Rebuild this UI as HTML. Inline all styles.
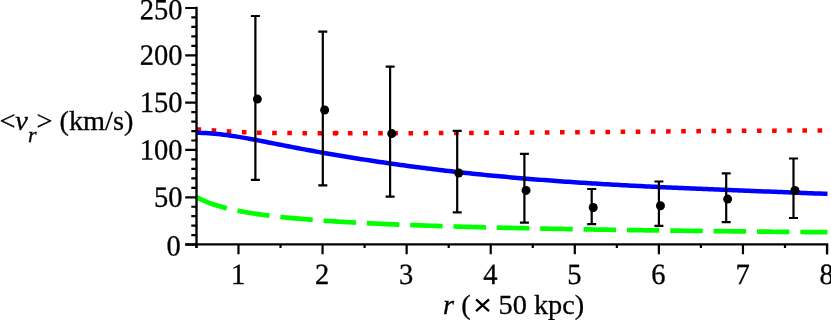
<!DOCTYPE html>
<html><head><meta charset="utf-8"><title>plot</title>
<style>
html,body{margin:0;padding:0;background:#fff;}
body{width:831px;height:320px;overflow:hidden;font-family:"Liberation Serif",serif;}
svg{display:block;will-change:transform;}
text{font-family:"Liberation Serif",serif;font-size:28.3px;fill:#000;stroke:#000;stroke-width:0.3px;}
.it{font-style:italic;}
.tk{font-size:28.5px;}
</style></head><body>
<svg width="831" height="320" viewBox="0 0 831 320">
<rect width="831" height="320" fill="#fff"/>
<!-- curves -->
<polyline points="196.5,129.39 199.5,129.52 202.5,129.66 205.5,129.82 208.5,130.00 211.5,130.19 214.5,130.38 217.5,130.58 220.5,130.79 223.5,130.99 226.5,131.19 229.5,131.38 232.5,131.57 235.5,131.75 238.5,131.92 241.5,132.07 244.5,132.21 247.5,132.34 250.5,132.44 253.5,132.54 256.5,132.62 259.5,132.69 262.5,132.75 265.5,132.80 268.5,132.84 271.5,132.88 274.5,132.92 277.5,132.95 280.5,132.99 283.5,133.01 286.5,133.04 289.5,133.07 292.5,133.09 295.5,133.11 298.5,133.13 301.5,133.15 304.5,133.17 307.5,133.18 310.5,133.20 313.5,133.21 316.5,133.22 319.5,133.23 322.5,133.24 325.5,133.24 328.5,133.25 331.5,133.26 334.5,133.26 337.5,133.26 340.5,133.27 343.5,133.27 346.5,133.27 349.5,133.27 352.5,133.27 355.5,133.27 358.5,133.27 361.5,133.27 364.5,133.27 367.5,133.26 370.5,133.26 373.5,133.26 376.5,133.25 379.5,133.25 382.5,133.24 385.5,133.24 388.5,133.23 391.5,133.23 394.5,133.22 397.5,133.21 400.5,133.21 403.5,133.20 406.5,133.19 409.5,133.18 412.5,133.17 415.5,133.16 418.5,133.15 421.5,133.14 424.5,133.13 427.5,133.12 430.5,133.11 433.5,133.10 436.5,133.08 439.5,133.07 442.5,133.06 445.5,133.05 448.5,133.03 451.5,133.02 454.5,133.00 457.5,132.99 460.5,132.97 463.5,132.96 466.5,132.94 469.5,132.93 472.5,132.91 475.5,132.89 478.5,132.88 481.5,132.86 484.5,132.84 487.5,132.82 490.5,132.81 493.5,132.79 496.5,132.77 499.5,132.75 502.5,132.73 505.5,132.71 508.5,132.69 511.5,132.67 514.5,132.65 517.5,132.63 520.5,132.61 523.5,132.59 526.5,132.57 529.5,132.54 532.5,132.52 535.5,132.50 538.5,132.48 541.5,132.46 544.5,132.43 547.5,132.41 550.5,132.39 553.5,132.36 556.5,132.34 559.5,132.32 562.5,132.29 565.5,132.27 568.5,132.25 571.5,132.22 574.5,132.20 577.5,132.17 580.5,132.15 583.5,132.12 586.5,132.10 589.5,132.07 592.5,132.05 595.5,132.02 598.5,132.00 601.5,131.97 604.5,131.94 607.5,131.92 610.5,131.89 613.5,131.87 616.5,131.84 619.5,131.81 622.5,131.79 625.5,131.76 628.5,131.74 631.5,131.71 634.5,131.68 637.5,131.66 640.5,131.63 643.5,131.60 646.5,131.58 649.5,131.55 652.5,131.52 655.5,131.50 658.5,131.47 661.5,131.45 664.5,131.42 667.5,131.39 670.5,131.37 673.5,131.34 676.5,131.32 679.5,131.29 682.5,131.27 685.5,131.24 688.5,131.22 691.5,131.19 694.5,131.17 697.5,131.14 700.5,131.12 703.5,131.10 706.5,131.07 709.5,131.05 712.5,131.03 715.5,131.00 718.5,130.98 721.5,130.96 724.5,130.94 727.5,130.92 730.5,130.90 733.5,130.87 736.5,130.85 739.5,130.83 742.5,130.81 745.5,130.80 748.5,130.78 751.5,130.76 754.5,130.74 757.5,130.72 760.5,130.71 763.5,130.69 766.5,130.67 769.5,130.66 772.5,130.64 775.5,130.63 778.5,130.61 781.5,130.60 784.5,130.59 787.5,130.58 790.5,130.56 793.5,130.55 796.5,130.54 799.5,130.53 802.5,130.52 805.5,130.51 808.5,130.50 811.5,130.50 814.5,130.49 817.5,130.48 820.5,130.48 823.5,130.47 826.5,130.47 827.5,130.47" fill="none" stroke="#ff0000" stroke-width="4.5" stroke-dasharray="4.6 10.55"/>
<polyline points="196.5,197.01 199.5,198.61 202.5,200.05 205.5,201.37 208.5,202.58 211.5,203.69 214.5,204.71 217.5,205.66 220.5,206.55 223.5,207.37 226.5,208.15 229.5,208.88 232.5,209.56 235.5,210.21 238.5,210.82 241.5,211.40 244.5,211.95 247.5,212.48 250.5,212.98 253.5,213.45 256.5,213.91 259.5,214.34 262.5,214.76 265.5,215.16 268.5,215.54 271.5,215.91 274.5,216.27 277.5,216.61 280.5,216.94 283.5,217.26 286.5,217.57 289.5,217.86 292.5,218.15 295.5,218.43 298.5,218.70 301.5,218.96 304.5,219.21 307.5,219.46 310.5,219.69 313.5,219.93 316.5,220.15 319.5,220.37 322.5,220.58 325.5,220.79 328.5,220.99 331.5,221.19 334.5,221.38 337.5,221.57 340.5,221.75 343.5,221.93 346.5,222.10 349.5,222.27 352.5,222.44 355.5,222.60 358.5,222.76 361.5,222.91 364.5,223.06 367.5,223.21 370.5,223.36 373.5,223.50 376.5,223.64 379.5,223.77 382.5,223.91 385.5,224.04 388.5,224.17 391.5,224.29 394.5,224.42 397.5,224.54 400.5,224.66 403.5,224.78 406.5,224.89 409.5,225.00 412.5,225.11 415.5,225.22 418.5,225.33 421.5,225.44 424.5,225.54 427.5,225.64 430.5,225.74 433.5,225.84 436.5,225.94 439.5,226.03 442.5,226.12 445.5,226.22 448.5,226.31 451.5,226.40 454.5,226.48 457.5,226.57 460.5,226.66 463.5,226.74 466.5,226.82 469.5,226.91 472.5,226.99 475.5,227.07 478.5,227.14 481.5,227.22 484.5,227.30 487.5,227.37 490.5,227.45 493.5,227.52 496.5,227.59 499.5,227.66 502.5,227.73 505.5,227.80 508.5,227.87 511.5,227.94 514.5,228.00 517.5,228.07 520.5,228.13 523.5,228.20 526.5,228.26 529.5,228.32 532.5,228.39 535.5,228.45 538.5,228.51 541.5,228.57 544.5,228.63 547.5,228.68 550.5,228.74 553.5,228.80 556.5,228.85 559.5,228.91 562.5,228.97 565.5,229.02 568.5,229.07 571.5,229.13 574.5,229.18 577.5,229.23 580.5,229.28 583.5,229.33 586.5,229.38 589.5,229.43 592.5,229.48 595.5,229.53 598.5,229.58 601.5,229.63 604.5,229.67 607.5,229.72 610.5,229.77 613.5,229.81 616.5,229.86 619.5,229.90 622.5,229.95 625.5,229.99 628.5,230.04 631.5,230.08 634.5,230.12 637.5,230.16 640.5,230.21 643.5,230.25 646.5,230.29 649.5,230.33 652.5,230.37 655.5,230.41 658.5,230.45 661.5,230.49 664.5,230.53 667.5,230.57 670.5,230.60 673.5,230.64 676.5,230.68 679.5,230.72 682.5,230.75 685.5,230.79 688.5,230.83 691.5,230.86 694.5,230.90 697.5,230.93 700.5,230.97 703.5,231.00 706.5,231.04 709.5,231.07 712.5,231.11 715.5,231.14 718.5,231.17 721.5,231.21 724.5,231.24 727.5,231.27 730.5,231.30 733.5,231.34 736.5,231.37 739.5,231.40 742.5,231.43 745.5,231.46 748.5,231.49 751.5,231.52 754.5,231.55 757.5,231.58 760.5,231.61 763.5,231.64 766.5,231.67 769.5,231.70 772.5,231.73 775.5,231.76 778.5,231.79 781.5,231.81 784.5,231.84 787.5,231.87 790.5,231.90 793.5,231.93 796.5,231.95 799.5,231.98 802.5,232.01 805.5,232.03 808.5,232.06 811.5,232.09 814.5,232.11 817.5,232.14 820.5,232.16 823.5,232.19 826.5,232.21 827.5,232.22" fill="none" stroke="#00ff00" stroke-width="4.7" stroke-dasharray="32.45 10.91" stroke-linejoin="round"/>
<polyline points="196.5,132.74 199.5,132.80 202.5,132.91 205.5,133.06 208.5,133.24 211.5,133.46 214.5,133.72 217.5,134.02 220.5,134.34 223.5,134.69 226.5,135.08 229.5,135.48 232.5,135.92 235.5,136.37 238.5,136.85 241.5,137.35 244.5,137.87 247.5,138.40 250.5,138.94 253.5,139.50 256.5,140.07 259.5,140.65 262.5,141.24 265.5,141.83 268.5,142.43 271.5,143.02 274.5,143.62 277.5,144.22 280.5,144.81 283.5,145.40 286.5,145.99 289.5,146.57 292.5,147.15 295.5,147.72 298.5,148.28 301.5,148.85 304.5,149.40 307.5,149.96 310.5,150.51 313.5,151.05 316.5,151.59 319.5,152.13 322.5,152.66 325.5,153.19 328.5,153.71 331.5,154.23 334.5,154.74 337.5,155.25 340.5,155.75 343.5,156.25 346.5,156.75 349.5,157.24 352.5,157.73 355.5,158.21 358.5,158.69 361.5,159.16 364.5,159.63 367.5,160.09 370.5,160.56 373.5,161.01 376.5,161.46 379.5,161.91 382.5,162.35 385.5,162.79 388.5,163.23 391.5,163.66 394.5,164.08 397.5,164.50 400.5,164.92 403.5,165.33 406.5,165.74 409.5,166.15 412.5,166.55 415.5,166.94 418.5,167.33 421.5,167.72 424.5,168.10 427.5,168.48 430.5,168.85 433.5,169.22 436.5,169.59 439.5,169.95 442.5,170.31 445.5,170.66 448.5,171.01 451.5,171.35 454.5,171.69 457.5,172.03 460.5,172.36 463.5,172.69 466.5,173.01 469.5,173.33 472.5,173.65 475.5,173.96 478.5,174.27 481.5,174.57 484.5,174.87 487.5,175.17 490.5,175.46 493.5,175.75 496.5,176.03 499.5,176.31 502.5,176.59 505.5,176.86 508.5,177.13 511.5,177.40 514.5,177.66 517.5,177.92 520.5,178.18 523.5,178.43 526.5,178.68 529.5,178.92 532.5,179.17 535.5,179.41 538.5,179.64 541.5,179.88 544.5,180.11 547.5,180.34 550.5,180.56 553.5,180.78 556.5,181.00 559.5,181.22 562.5,181.43 565.5,181.64 568.5,181.85 571.5,182.05 574.5,182.25 577.5,182.45 580.5,182.65 583.5,182.84 586.5,183.03 589.5,183.22 592.5,183.41 595.5,183.60 598.5,183.78 601.5,183.96 604.5,184.13 607.5,184.31 610.5,184.48 613.5,184.65 616.5,184.82 619.5,184.99 622.5,185.16 625.5,185.32 628.5,185.48 631.5,185.64 634.5,185.80 637.5,185.95 640.5,186.10 643.5,186.26 646.5,186.41 649.5,186.56 652.5,186.70 655.5,186.85 658.5,186.99 661.5,187.13 664.5,187.27 667.5,187.41 670.5,187.55 673.5,187.69 676.5,187.82 679.5,187.96 682.5,188.09 685.5,188.22 688.5,188.36 691.5,188.48 694.5,188.61 697.5,188.74 700.5,188.87 703.5,188.99 706.5,189.12 709.5,189.24 712.5,189.37 715.5,189.49 718.5,189.61 721.5,189.73 724.5,189.85 727.5,189.97 730.5,190.09 733.5,190.21 736.5,190.33 739.5,190.45 742.5,190.56 745.5,190.68 748.5,190.80 751.5,190.92 754.5,191.03 757.5,191.15 760.5,191.26 763.5,191.38 766.5,191.50 769.5,191.61 772.5,191.73 775.5,191.84 778.5,191.96 781.5,192.08 784.5,192.19 787.5,192.31 790.5,192.43 793.5,192.54 796.5,192.66 799.5,192.78 802.5,192.90 805.5,193.02 808.5,193.14 811.5,193.26 814.5,193.38 817.5,193.50 820.5,193.62 823.5,193.74 826.5,193.86 827.5,193.91" fill="none" stroke="#0000ff" stroke-width="4.5" stroke-linejoin="round"/>
<circle cx="336.1" cy="133.1" r="2.5" fill="#ff0000"/>
<!-- axes -->
<g fill="none" stroke="#000">
<path d="M196.5,6.8V248" stroke-width="2.4"/>
<path d="M185.2,244.4H828.2" stroke-width="2.3"/>
<path d="M185.2,244.60H196.5M185.2,197.28H196.5M185.2,149.96H196.5M185.2,102.64H196.5M185.2,55.32H196.5M185.2,8.00H196.5M191.3,235.14H196.5M191.3,225.67H196.5M191.3,216.21H196.5M191.3,206.74H196.5M191.3,187.82H196.5M191.3,178.35H196.5M191.3,168.89H196.5M191.3,159.42H196.5M191.3,140.50H196.5M191.3,131.03H196.5M191.3,121.57H196.5M191.3,112.10H196.5M191.3,93.18H196.5M191.3,83.71H196.5M191.3,74.25H196.5M191.3,64.78H196.5M191.3,45.86H196.5M191.3,36.39H196.5M191.3,26.93H196.5M191.3,17.46H196.5M238.48,244.4V254.3M322.56,244.4V254.3M406.64,244.4V254.3M490.72,244.4V254.3M574.80,244.4V254.3M658.88,244.4V254.3M742.96,244.4V254.3M827.04,244.4V254.3M196.44,244.4V248.1M280.52,244.4V248.1M364.60,244.4V248.1M448.68,244.4V248.1M532.76,244.4V248.1M616.84,244.4V248.1M700.92,244.4V248.1M785.00,244.4V248.1" stroke-width="2.2"/>
<path d="M827.04,244.4V254.3" stroke-width="2.2"/>
</g>
<!-- error bars -->
<g fill="none" stroke="#000" stroke-width="2.2">
<path d="M255.4,16.0V179.8M250.9,16.0H259.9M250.9,179.8H259.9"/><path d="M322.8,31.7V185.3M318.3,31.7H327.3M318.3,185.3H327.3"/><path d="M390.1,66.6V196.7M385.6,66.6H394.6M385.6,196.7H394.6"/><path d="M457.2,130.8V212.3M452.7,130.8H461.7M452.7,212.3H461.7"/><path d="M524.4,153.9V222.7M519.9,153.9H528.9M519.9,222.7H528.9"/><path d="M591.7,189.0V224.1M587.2,189.0H596.2M587.2,224.1H596.2"/><path d="M658.9,181.5V225.9M654.4,181.5H663.4M654.4,225.9H663.4"/><path d="M726.2,173.4V222.2M721.7,173.4H730.7M721.7,222.2H730.7"/><path d="M793.5,158.5V218.0M789.0,158.5H798.0M789.0,218.0H798.0"/>
</g>
<g fill="#000"><circle cx="257.35" cy="99.10" r="4.5"/><circle cx="324.65" cy="110.00" r="4.5"/><circle cx="391.75" cy="133.60" r="4.5"/><circle cx="458.75" cy="173.00" r="4.5"/><circle cx="526.05" cy="190.40" r="4.5"/><circle cx="593.25" cy="207.50" r="4.5"/><circle cx="660.45" cy="205.70" r="4.5"/><circle cx="727.65" cy="199.10" r="4.5"/><circle cx="794.95" cy="190.50" r="4.5"/></g>
<!-- tick labels -->
<text class="tk" transform="translate(180.7,255.4) rotate(0.03) scale(1,1.03)" text-anchor="end">0</text><text class="tk" transform="translate(182.4,206.8) rotate(0.03) scale(1,1.03)" text-anchor="end">50</text><text class="tk" transform="translate(182.4,159.5) rotate(0.03) scale(1,1.03)" text-anchor="end">100</text><text class="tk" transform="translate(182.4,112.1) rotate(0.03) scale(1,1.03)" text-anchor="end">150</text><text class="tk" transform="translate(182.4,64.8) rotate(0.03) scale(1,1.03)" text-anchor="end">200</text><text class="tk" transform="translate(182.4,19.2) rotate(0.03) scale(1,1.03)" text-anchor="end">250</text>
<text class="tk" transform="translate(238.1,284.1) rotate(0.03) scale(1,1.03)" text-anchor="middle">1</text><text class="tk" transform="translate(322.2,284.1) rotate(0.03) scale(1,1.03)" text-anchor="middle">2</text><text class="tk" transform="translate(406.2,284.1) rotate(0.03) scale(1,1.03)" text-anchor="middle">3</text><text class="tk" transform="translate(490.3,284.1) rotate(0.03) scale(1,1.03)" text-anchor="middle">4</text><text class="tk" transform="translate(574.4,284.1) rotate(0.03) scale(1,1.03)" text-anchor="middle">5</text><text class="tk" transform="translate(658.5,284.1) rotate(0.03) scale(1,1.03)" text-anchor="middle">6</text><text class="tk" transform="translate(742.6,284.1) rotate(0.03) scale(1,1.03)" text-anchor="middle">7</text><text class="tk" transform="translate(826.6,284.1) rotate(0.03) scale(1,1.03)" text-anchor="middle">8</text>
<!-- y title -->
<text x="-0.6" y="130">&lt;<tspan class="it">v</tspan><tspan class="it" font-size="22" dy="12">r</tspan><tspan dy="-12">&gt; (km/s)</tspan></text>
<!-- x title -->
<text x="443.1" y="313.6"><tspan class="it">r</tspan> (</text>
<path d="M476.1,299.4 L489,311.2 M489,299.4 L476.1,311.2" stroke="#000" stroke-width="2.35" fill="none"/>
<text x="498.6" y="313.6">50 kpc)</text>
</svg>
</body></html>
